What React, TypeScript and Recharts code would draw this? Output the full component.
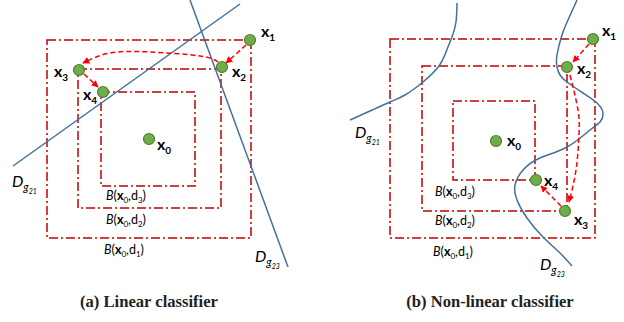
import React from 'react';
import { ComposedChart, XAxis, YAxis, Scatter, ReferenceArea } from 'recharts';

// ---- panel (a): linear classifier ----
const boxesA = [
  { x1: 47, x2: 251, y1: 40, y2: 238 },
  { x1: 78, x2: 221, y1: 69, y2: 208 },
  { x1: 101, x2: 195, y1: 92, y2: 186 },
];
const pointsA = [
  { x: 149, y: 139 },
  { x: 250, y: 40 },
  { x: 222, y: 67 },
  { x: 79, y: 70 },
  { x: 103, y: 92 },
];
const boundaryA21 = [{ x: 13, y: 166 }, { x: 240, y: 4 }];
const boundaryA23 = [{ x: 190, y: 0 }, { x: 288, y: 267 }];
const arrowA12 = [{ x: 246, y: 45 }, { x: 226, y: 63 }];
const arrowA23 = [
  { x: 218, y: 62 },
  { x: 200, y: 56 },
  { x: 150, y: 52 },
  { x: 110, y: 53 },
  { x: 83, y: 63 },
];
const arrowA34 = [{ x: 84, y: 74 }, { x: 98, y: 87 }];

// ---- panel (b): non-linear classifier ----
const boxesB = [
  { x1: 390, x2: 595, y1: 39, y2: 238 },
  { x1: 422, x2: 567, y1: 66, y2: 211 },
  { x1: 453, x2: 535, y1: 101, y2: 180 },
];
const pointsB = [
  { x: 496, y: 141 },
  { x: 593, y: 39 },
  { x: 567, y: 67 },
  { x: 565, y: 211 },
  { x: 536, y: 180 },
];
const boundaryB21 = [
  { x: 457, y: 3 }, { x: 456, y: 22 }, { x: 452, y: 37 }, { x: 446, y: 52 },
  { x: 439, y: 66 }, { x: 423, y: 82 }, { x: 405, y: 95 }, { x: 390, y: 102 },
  { x: 370, y: 111 }, { x: 350, y: 120 },
];
const boundaryB23 = [
  { x: 577, y: 0 }, { x: 568, y: 20 }, { x: 562, y: 35 }, { x: 557, y: 55 },
  { x: 557, y: 67 }, { x: 560, y: 75 }, { x: 567, y: 82 }, { x: 583, y: 93 },
  { x: 597, y: 103 }, { x: 603, y: 113 }, { x: 600, y: 122 }, { x: 590, y: 130 },
  { x: 567, y: 147 }, { x: 540, y: 158 }, { x: 523, y: 170 }, { x: 515, y: 185 },
  { x: 517, y: 200 }, { x: 527, y: 218 }, { x: 543, y: 237 }, { x: 560, y: 253 },
  { x: 572, y: 266 },
];
const arrowB12 = [{ x: 589, y: 44 }, { x: 573, y: 62 }];
const arrowB23 = [
  { x: 570, y: 75 },
  { x: 578, y: 110 },
  { x: 579, y: 135 },
  { x: 576, y: 170 },
  { x: 569, y: 202 },
];
const arrowB34 = [{ x: 561, y: 206 }, { x: 541, y: 186 }];

// ---- text ----
const pointLabels = [
  { x: 157, y: 150, sub: '0' },
  { x: 261, y: 37, sub: '1' },
  { x: 232, y: 77, sub: '2' },
  { x: 54, y: 77, sub: '3' },
  { x: 83, y: 100, sub: '4' },
  { x: 507, y: 146, sub: '0' },
  { x: 602, y: 36, sub: '1' },
  { x: 577, y: 74, sub: '2' },
  { x: 574, y: 225, sub: '3' },
  { x: 544, y: 186, sub: '4' },
];
const boundaryLabels = [
  { x: 12, y: 187, sub: '21' },
  { x: 255, y: 262, sub: '23' },
  { x: 355, y: 138, sub: '21' },
  { x: 540, y: 270, sub: '23' },
];
const ballLabels = [
  { x: 106, y: 200, d: '3' },
  { x: 106, y: 224, d: '2' },
  { x: 104, y: 254, d: '1' },
  { x: 435, y: 196, d: '3' },
  { x: 435, y: 225, d: '2' },
  { x: 433, y: 256, d: '1' },
];
const captions = [
  { x: 149, y: 307, text: '(a) Linear classifier' },
  { x: 490, y: 307, text: '(b) Non-linear classifier' },
];

const BOX_RED = '#c00000';
const ARROW_RED = '#ff0000';
const BLUE = '#41719c';
const SANS = 'Lato, "Open Sans", sans-serif';

const Nothing = () => <g />;

const Dot = (p: any) => (
  <circle cx={p.cx} cy={p.cy} r={5.5} fill="#70ad47" stroke="#507e32" strokeWidth={1.2} />
);

const PointLabel = (p: any) => (
  <text x={p.cx} y={p.cy} fontFamily={SANS} fontWeight={700} fill="#000">
    <tspan fontSize={16}>x</tspan>
    <tspan fontSize={10} dy={4}>{p.payload.sub}</tspan>
  </text>
);

const BoundaryLabel = (p: any) => (
  <text x={p.cx} y={p.cy} fontFamily={SANS} fontStyle="italic" fill="#000">
    <tspan fontSize={16}>D</tspan>
    <tspan fontSize={11} dy={4}>g</tspan>
    <tspan fontSize={7} dy={3}>{p.payload.sub}</tspan>
  </text>
);

const BallLabel = (p: any) => (
  <text x={p.cx} y={p.cy} fontFamily={SANS} fontSize={12.5} fill="#000">
    <tspan fontStyle="italic">B</tspan>
    <tspan>(</tspan>
    <tspan fontWeight={700}>x</tspan>
    <tspan fontSize={8} dy={3}>0</tspan>
    <tspan dy={-3}>,d</tspan>
    <tspan fontSize={8} dy={3}>{p.payload.d}</tspan>
    <tspan dy={-3}>)</tspan>
  </text>
);

const Caption = (p: any) => (
  <text
    x={p.cx}
    y={p.cy}
    textAnchor="middle"
    fontFamily='"Liberation Serif", serif'
    fontWeight={700}
    fontSize={16.6}
    fill="#222"
  >
    {p.payload.text}
  </text>
);

const boxStyle = {
  fill: 'none',
  fillOpacity: 0,
  stroke: BOX_RED,
  strokeWidth: 1.5,
  strokeDasharray: '9 3 2 3',
};

const blueLine = { stroke: BLUE, strokeWidth: 1.5 };
const arrowLine = {
  stroke: ARROW_RED,
  strokeWidth: 1.5,
  strokeDasharray: '5 3',
  markerEnd: 'url(#arrowHead)',
};

export default function App() {
  const boxes = [...boxesA, ...boxesB];
  const boundaries = [
    { data: boundaryA21, joint: 'linear' },
    { data: boundaryA23, joint: 'linear' },
    { data: boundaryB21, joint: 'natural' },
    { data: boundaryB23, joint: 'natural' },
  ];
  const arrows = [
    { data: arrowA12, joint: 'linear' },
    { data: arrowA23, joint: 'natural' },
    { data: arrowA34, joint: 'linear' },
    { data: arrowB12, joint: 'linear' },
    { data: arrowB23, joint: 'natural' },
    { data: arrowB34, joint: 'linear' },
  ];

  return (
    <div style={{ position: 'absolute', left: 0, top: 0, width: 624, height: 322, background: '#fff' }}>
      <ComposedChart width={624} height={322} margin={{ top: 0, right: 0, bottom: 0, left: 0 }}>
        <defs>
          <marker
            id="arrowHead"
            viewBox="0 0 10 10"
            refX="9"
            refY="5"
            markerWidth="7"
            markerHeight="7"
            markerUnits="userSpaceOnUse"
            orient="auto"
          >
            <path d="M0,0 L10,5 L0,10 z" fill={ARROW_RED} />
          </marker>
        </defs>
        <XAxis type="number" dataKey="x" domain={[0, 624]} allowDataOverflow hide />
        <YAxis type="number" dataKey="y" domain={[0, 322]} reversed allowDataOverflow hide />
        {boxes.map((b, i) => (
          <ReferenceArea key={`box${i}`} {...b} {...boxStyle} ifOverflow="visible" />
        ))}
        {boundaries.map((s, i) => (
          <Scatter
            key={`bd${i}`}
            data={s.data}
            line={blueLine}
            lineJointType={s.joint as any}
            shape={Nothing}
            fill={BLUE}
            isAnimationActive={false}
          />
        ))}
        {arrows.map((s, i) => (
          <Scatter
            key={`ar${i}`}
            data={s.data}
            line={arrowLine}
            lineJointType={s.joint as any}
            shape={Nothing}
            fill={ARROW_RED}
            isAnimationActive={false}
          />
        ))}
        <Scatter data={[...pointsA, ...pointsB]} shape={Dot} isAnimationActive={false} />
        <Scatter data={pointLabels} shape={PointLabel} isAnimationActive={false} />
        <Scatter data={boundaryLabels} shape={BoundaryLabel} isAnimationActive={false} />
        <Scatter data={ballLabels} shape={BallLabel} isAnimationActive={false} />
        <Scatter data={captions} shape={Caption} isAnimationActive={false} />
      </ComposedChart>
    </div>
  );
}
